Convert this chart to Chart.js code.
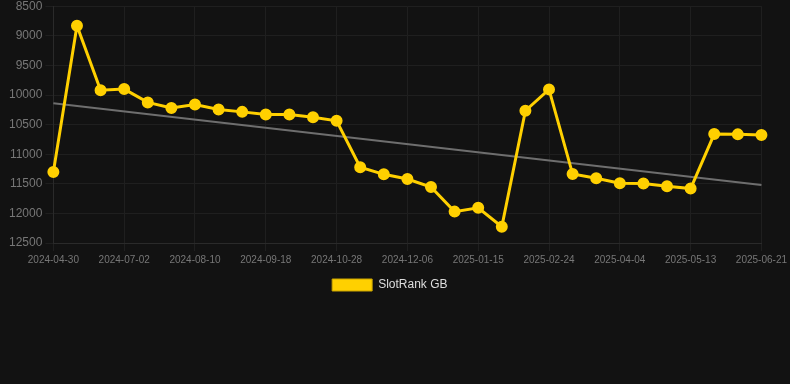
<!DOCTYPE html>
<html>
<head>
<meta charset="utf-8">
<script src="https://cdn.jsdelivr.net/npm/chart.js@4/dist/chart.umd.min.js"></script>
<style>
  html, body { margin: 0; padding: 0; background: #121212; overflow: hidden; }
  #wrap { width: 790px; height: 305px; position: relative; margin-top: -4px; }
</style>
</head>
<body>
<div id="wrap"><canvas id="rankChart"></canvas></div>
<script>
const dates = [
  "2024-04-30", "2024-05-21", "2024-06-11", "2024-07-02", "2024-07-15", "2024-07-28",
  "2024-08-10", "2024-08-23", "2024-09-05", "2024-09-18", "2024-10-01", "2024-10-14",
  "2024-10-28", "2024-11-10", "2024-11-23", "2024-12-06", "2024-12-19", "2025-01-01",
  "2025-01-15", "2025-01-28", "2025-02-10", "2025-02-24", "2025-03-09", "2025-03-22",
  "2025-04-04", "2025-04-17", "2025-04-30", "2025-05-13", "2025-05-26", "2025-06-08",
  "2025-06-21"
];

const rank = [
  11300, 8830, 9920, 9900, 10125, 10220, 10160, 10245, 10285, 10330, 10330,
  10375, 10435, 11220, 11340, 11420, 11555, 11970, 11905, 12225, 10265, 9905,
  11335, 11405, 11490, 11495, 11540, 11580, 10660, 10665, 10675
];

// trend line endpoints only, joined with spanGaps
const trend = dates.map(() => null);
trend[0] = 10140;
trend[trend.length - 1] = 11520;

const yTicks = { min: 8500, max: 12500, step: 500 };

const font = "Arial, 'Liberation Sans', sans-serif";

new Chart(document.getElementById("rankChart"), {
  type: "line",
  data: {
    labels: dates,
    datasets: [
      {
        label: "SlotRank GB",
        data: rank,
        borderColor: "#ffd000",
        backgroundColor: "#ffd000",
        borderWidth: 3,
        pointRadius: 4.5,
        pointHoverRadius: 6,
        tension: 0
      },
      {
        label: "trend",
        data: trend,
        spanGaps: true,
        borderColor: "#6e6e6e",
        borderWidth: 2,
        pointRadius: 0,
        fill: false
      }
    ]
  },
  options: {
    responsive: true,
    maintainAspectRatio: false,
    animation: false,
    layout: { padding: { top: 0, right: 3, left: 6, bottom: 0 } },
    plugins: {
      legend: {
        position: "bottom",
        labels: {
          color: "#dddddd",
          font: { family: font, size: 12 },
          boxWidth: 40,
          boxHeight: 12,
          filter: item => item.datasetIndex === 0,
          // trailing spaces nudge the centred item a little to the left
          generateLabels: chart => Chart.defaults.plugins.legend.labels.generateLabels(chart)
            .map(l => Object.assign(l, { text: l.text + "    ", lineWidth: 1, strokeStyle: "#c9a400" }))
        }
      },
      tooltip: { enabled: false }
    },
    scales: {
      x: {
        grid: { color: "#1f1f1f", tickLength: 8 },
        border: { color: "#2a2a2a" },
        ticks: {
          color: "#777777",
          font: { family: font, size: 10 },
          autoSkip: false,
          maxRotation: 0,
          callback: function (val, i) {
            return i % 3 === 0 ? this.getLabelForValue(val) : null;
          }
        }
      },
      y: {
        reverse: true,
        min: yTicks.min,
        max: yTicks.max,
        grid: { color: "#1f1f1f", tickLength: 8 },
        border: { color: "#2a2a2a" },
        ticks: {
          stepSize: yTicks.step,
          color: "#777777",
          font: { family: font, size: 12 },
          callback: v => String(v)
        }
      }
    }
  }
});
</script>
</body>
</html>
